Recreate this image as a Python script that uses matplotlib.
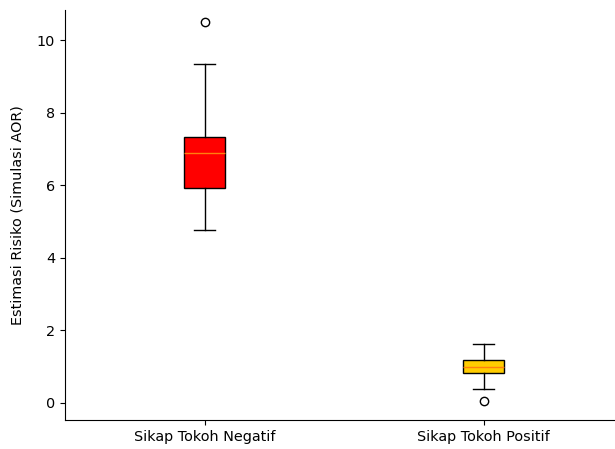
import matplotlib
matplotlib.use("Agg")
from matplotlib import pyplot as plt

# ringkasan boxplot per kelompok (AOR simulasi)
labels = ['Sikap Tokoh Negatif', 'Sikap Tokoh Positif']
whislo = [4.76, 0.39]
q1 = [5.92, 0.83]
med = [6.88, 1.00]
q3 = [7.33, 1.18]
whishi = [9.34, 1.63]
fliers = [[10.5], [0.04]]
colors = ['#ff0000', '#ffcc00']

plt.rcParams['font.size'] = 10.4

stats = []
for i in range(len(labels)):
    stats.append(dict(label=labels[i], whislo=whislo[i], q1=q1[i], med=med[i],
                      q3=q3[i], whishi=whishi[i], fliers=fliers[i]))

fig = plt.figure(figsize=(6.15, 4.49), dpi=100)
ax = fig.add_axes([65/615, 29/449, 558/615, 410/449])

bp = ax.bxp(stats, patch_artist=True, widths=0.15)
for patch, c in zip(bp['boxes'], colors):
    patch.set_facecolor(c)
    patch.set_edgecolor('black')

ax.set_xlim(0.5, 2.5)
ax.set_ylim(-0.47, 10.83)
ax.set_ylabel('Estimasi Risiko (Simulasi AOR)', labelpad=9)
ax.spines['top'].set_visible(False)
ax.spines['right'].set_visible(False)

fig.savefig('out.png', dpi=100)
